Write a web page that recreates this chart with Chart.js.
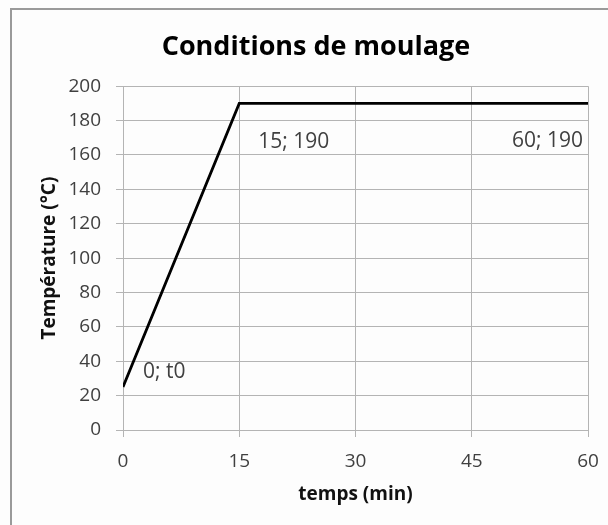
<!DOCTYPE html>
<html>
<head>
<meta charset="utf-8">
<script src="https://cdn.jsdelivr.net/npm/chart.js@4/dist/chart.umd.min.js"></script>
<style>
  html, body { margin: 0; padding: 0; background: #fdfdfd; overflow: hidden; }
  #frame { position: absolute; left: 10px; top: 8px; width: 640px; height: 560px;
           border: 2px solid #9a9a9a; box-sizing: border-box; background: #fdfdfd; }
  #wrap { position: absolute; left: 0; top: 0; width: 608px; height: 525px; }
</style>
</head>
<body>
<div id="frame"></div>
<div id="wrap"><canvas id="c" width="608" height="525"></canvas></div>
<script>
// Moulding cycle: time (min) and temperature (°C)
const temps = [0, 15, 60];
const temperature = [25, 190, 190];
const pointLabels = ['0; t0', '15; 190', '60; 190'];
const xTicks = [0, 15, 30, 45, 60];
const yTicks = [0, 20, 40, 60, 80, 100, 120, 140, 160, 180, 200];

const FONT = '"Open Sans", "DejaVu Sans", sans-serif';
const GRID = '#b4b4b4';

// Where each point's text sits relative to its point (px), and its alignment
const labelPlacement = [
  { dx: 20, dy: -15, align: 'left' },
  { dx: 19, dy: 39, align: 'left' },
  { dx: -5, dy: 38, align: 'right' }
];

const pointLabelPlugin = {
  id: 'pointLabels',
  afterDatasetsDraw(chart) {
    const { ctx } = chart;
    const meta = chart.getDatasetMeta(0);
    ctx.save();
    ctx.font = '21px ' + FONT;
    ctx.fillStyle = '#404040';
    ctx.textBaseline = 'middle';
    meta.data.forEach((pt, i) => {
      const p = labelPlacement[i];
      ctx.textAlign = p.align;
      ctx.fillText(pointLabels[i], pt.x + p.dx, pt.y + p.dy);
    });
    ctx.restore();
  }
};

new Chart(document.getElementById('c'), {
  type: 'scatter',
  data: {
    datasets: [{
      data: temps.map((t, i) => ({ x: t, y: temperature[i] })),
      showLine: true,
      borderColor: '#000000',
      borderWidth: 2.8,
      pointRadius: 0,
      pointHoverRadius: 0,
      tension: 0
    }]
  },
  options: {
    responsive: false,
    animation: false,
    layout: { padding: { left: 44, right: 20, top: 0, bottom: 0 } },
    plugins: {
      legend: { display: false },
      tooltip: { enabled: false },
      title: {
        display: true,
        text: 'Conditions de moulage',
        color: '#000000',
        font: { family: FONT, size: 27, weight: 'bold', lineHeight: 1.2 },
        padding: { top: 30.8, bottom: 23 }
      }
    },
    scales: {
      x: {
        type: 'linear',
        min: 0, max: 60,
        afterBuildTicks(scale) { scale.ticks = xTicks.map(v => ({ value: v })); },
        afterFit(scale) {
          scale.height = 95;
          // edge labels may overhang into the outer margin
          scale.paddingLeft = 0;
          scale.paddingRight = 0;
        },
        grid: { color: GRID, lineWidth: 1, tickLength: 7, drawTicks: true },
        border: { color: GRID, width: 1 },
        ticks: { color: '#404040', padding: 13, font: { family: FONT, size: 19 }, maxRotation: 0 },
        title: {
          display: true,
          text: 'temps (min)',
          color: '#111111',
          font: { family: FONT, size: 19, weight: 'bold', lineHeight: 1.2 },
          padding: { top: 0, bottom: 18.6 }
        }
      },
      y: {
        type: 'linear',
        min: 0, max: 200,
        afterBuildTicks(scale) { scale.ticks = yTicks.map(v => ({ value: v })); },
        afterFit(scale) { scale.width = 79; },
        grid: { color: GRID, lineWidth: 1, tickLength: 7, drawTicks: true },
        border: { color: GRID, width: 1 },
        ticks: { color: '#404040', padding: 15, font: { family: FONT, size: 19 } },
        title: {
          display: true,
          text: 'Température (°C)',
          color: '#111111',
          font: { family: FONT, size: 19, weight: 'bold', lineHeight: 1.2 },
          padding: { top: -5.4, bottom: 0 }
        }
      }
    }
  },
  plugins: [pointLabelPlugin]
});
</script>
</body>
</html>
